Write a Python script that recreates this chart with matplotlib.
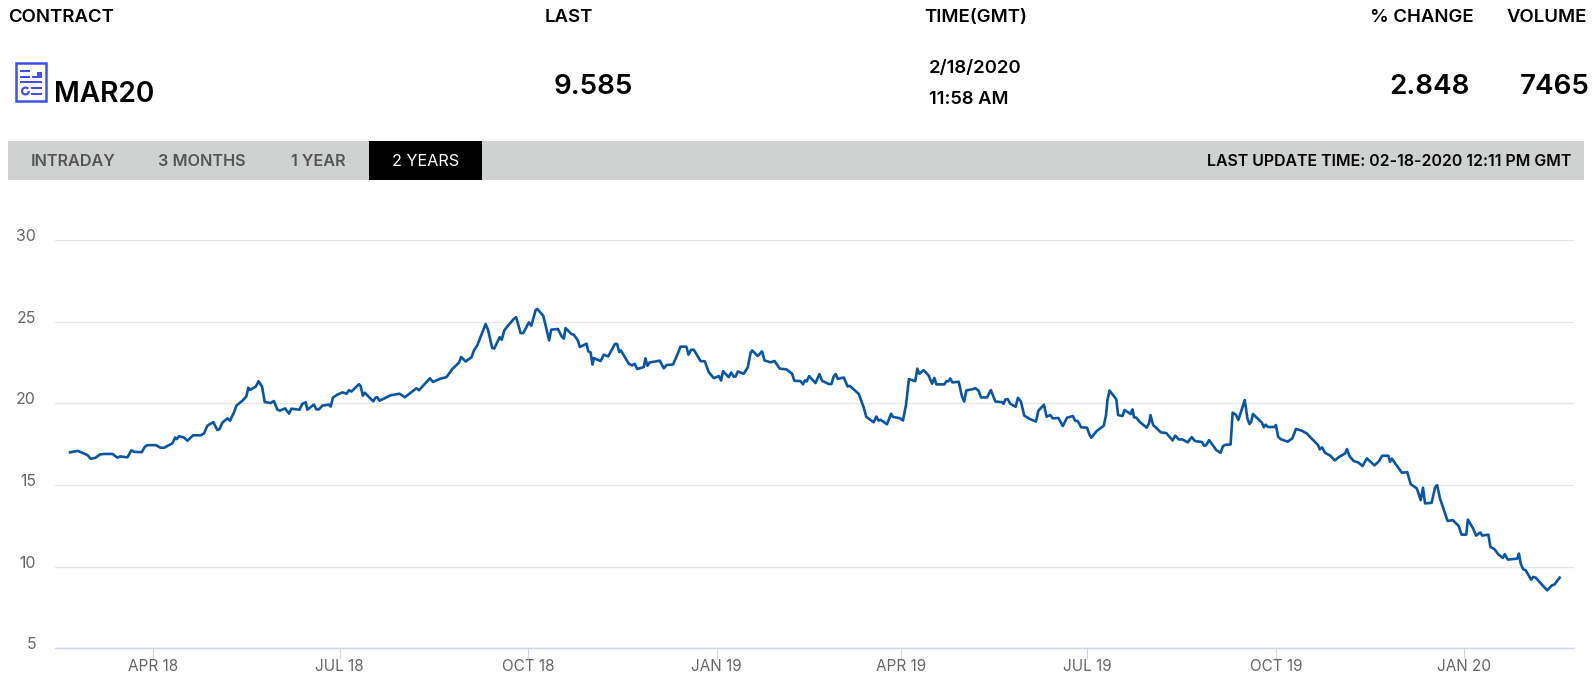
import pandas as pd
import matplotlib
matplotlib.use("Agg")
import matplotlib.pyplot as plt
import matplotlib.dates as mdates
from matplotlib.patches import Rectangle, Wedge
from matplotlib.transforms import ScaledTranslation

plt.rcParams['font.family'] = ['Inter', 'DejaVu Sans']

W, H = 1594, 680

# days counted from 1 Apr 2018
days = [-40.5,-38.5,-36.6,-34.5,-32,-30.4,-28,-25.9,-24,-19.8,-17.4,-16,-12.5,-10.6,-9.3,-5.5,-4,-2.8,1.3,3.7,5.4,9.4,10.8,11.5,12.7,15.1,16.8,19.5,23.3,24.9,26.5,29.4,31.4,32.5,33.8,36.3,37.6,39.5,40.7,43.6,45.5,46.5,47.3,50.1,51.5,53.2,54.5,57.4,59,60.7,62,64.4,66.4,67.5,71.5,72.8,74.5,75.3,78.5,79.7,81,82.6,85.9,86.7,87.8,89.9,92.4,94.5,95.6,96.8,100.5,101.3,102.4,103.3,107.5,108.6,109.4,110.6,115.9,120.3,122.9,128.5,129.8,135.1,136.6,140.3,143.2,146,149.3,150.4,152.5,155.4,156.6,158.2,162.3,163.5,165.5,166.5,169.2,170.2,171.4,173.6,176.1,177.2,179.4,
        180.7,183.4,184.6,186.7,187.5,190.4,191.9,193.3,194.3,197.6,199.4,200.5,201.3,204.2,205.4,207.3,208.3,211.6,212.4,213.5,214.5,215.1,218.4,220,222.1,225.4,226.5,227.5,228.3,232.2,233.8,235.1,236.3,239.5,240.3,241.3,242.3,247.3,249.3,250.6,253.8,256.1,257.4,260.3,261.3,262.6,263.9,267.2,269.3,271.2,273.7,276.1,277.2,278.2,281,282.1,283.4,284.4,285.4,288.3,290.3,291.6,292.4,295.1,297.2,298.4,301.3,303.3,305.9,309.1,311.9,313,316,317.2,318.1,319,320.2,323.3,325.2,326.5,329.8,331.1,332.2,333.2,334.2,337.1,339,340,344.4,346.8,348.1,351.7,353,354,355,358.2,360.2,361.1,364.4,366,367.5,368.9,372,373,374,376.1,378.5,380.2,381.3,382.3,386.2,387.2,388.1,389.1,390.1,393.2,394.8,395.9,396.9,400.2,401.3,402.9,404.1,407,408.9,411.1,414.3,415.1,416,417.1,418.4,421,422.1,
        423.6,425.2,428.3,430.9,432.1,434.8,436.1,437.9,439.1,441.9,444,446.1,448.9,450.1,451.3,453,455.8,457.1,457.9,460.5,464,465.1,465.8,466.8,470.1,471,473.1,474.1,477.1,478,478.8,479.9,481.4,484.9,486.1,486.8,488.1,491.9,494.5,497.6,498.9,500.6,502.4,505,506.9,508.5,511.9,513,514,515.4,518.9,521,522.2,523.3,525.9,526.9,528.5,529.7,532.8,534.1,535.1,536,536.8,541.2,542.1,543,544.2,547.3,548,549.1,550.3,553.7,556,557.8,560.7,563,568.6,569.4,570.6,572,574.6,576.7,579,581.8,582.7,583.9,586,588.2,590.3,592.4,596.1,598.2,599.9,602.9,603.7,604.6,609.5,612.1,613.8,616.8,618.7,619.8,620.8,624,625.7,626.7,628.1,631.8,634.4,637.2,638.6,640.9,641.7,644.3,645.7,647.8,648.7,651.7,652.7,654.8,656.5,658.8,659.7,661.2,665.8,666.6,667.5,668.7,669.9,672.6,673.6,674.8,677.4,680.4,682.7,683.9,686.5]
prices = [17.0,17.05,17.08,16.97,16.83,16.6,16.67,16.87,16.9,16.9,16.67,16.75,16.69,17.12,17.03,17.01,17.34,17.44,17.44,17.28,17.28,17.55,17.91,17.81,17.98,17.91,17.71,18.04,18.04,18.16,18.63,18.85,18.36,18.43,18.81,19.08,18.94,19.45,19.86,20.16,20.41,20.96,20.82,21.02,21.35,21.02,20.08,20.02,20.14,19.61,19.55,19.69,19.37,19.67,19.61,19.96,20.06,19.61,19.92,19.63,19.63,19.86,19.92,19.8,20.35,20.53,20.67,20.59,20.8,20.72,21.17,21.06,20.47,20.65,20.12,20.35,20.37,20.16,20.49,20.59,20.37,20.92,20.8,21.53,21.31,21.51,21.6,22.09,22.49,22.84,22.56,22.82,23.23,23.54,24.85,24.5,23.39,23.35,24.05,23.89,24.46,24.81,25.17,25.27,24.3,
          24.3,24.96,24.75,25.7,25.78,25.37,24.61,23.85,24.51,24.55,24.1,23.96,24.61,24.24,24.2,23.85,23.45,23.65,23.18,23.12,22.38,22.77,22.59,22.98,22.87,23.63,23.63,23.14,23.24,22.42,22.32,22.42,22.1,22.22,22.75,22.3,22.5,22.61,22.14,22.34,22.38,23.04,23.47,23.47,22.98,23.28,23.28,22.59,22.57,21.91,21.54,21.67,21.4,21.97,21.6,21.89,21.63,21.65,21.95,21.81,22.22,23.08,23.24,22.89,23.18,22.63,22.51,22.59,22.12,22.08,21.81,21.38,21.36,21.16,21.4,21.34,21.67,21.24,21.79,21.38,21.18,21.18,21.65,21.79,21.5,21.58,21.03,21.07,20.58,19.76,19.17,18.84,19.19,18.95,18.99,18.72,19.36,19.17,19.09,18.95,19.91,21.48,21.36,22.12,21.81,22.03,21.71,21.2,21.56,21.16,21.16,21.36,21.34,21.52,21.28,21.32,20.42,20.11,20.79,20.87,20.93,20.77,20.36,20.36,20.81,20.11,20.07,19.97,20.24,20.26,19.97,19.79,20.34,
          20.1,19.24,19.02,18.88,19.55,19.92,19.18,19.28,19.08,19.1,18.61,19.12,19.22,18.92,18.92,18.53,18.51,18.06,17.89,18.3,18.63,19.28,20.2,20.78,20.25,19.28,19.22,19.59,19.35,19.63,19.14,19.12,18.88,18.51,18.77,19.28,18.67,18.22,18.18,17.73,18.02,17.79,17.79,17.61,17.93,17.69,17.63,17.4,17.44,17.75,17.14,16.97,17.38,17.46,17.48,19.43,19.3,18.98,20.2,19.08,18.73,18.88,19.35,18.81,18.53,18.69,18.55,18.55,18.67,17.96,17.81,17.65,17.85,18.43,18.32,18.16,17.44,17.18,17.3,16.97,16.79,16.5,16.73,16.93,17.2,16.77,16.46,16.38,16.16,16.63,16.2,16.44,16.79,16.79,16.42,16.61,15.75,15.79,15.05,14.79,14.07,14.83,13.87,13.91,14.85,14.99,14.17,12.8,12.84,12.49,11.96,11.96,12.88,12.33,11.9,12.09,11.9,11.96,11.21,11.06,10.76,10.53,10.76,10.43,10.49,10.8,10.18,9.84,9.78,9.2,9.37,9.33,8.96,8.55,8.85,8.9,9.33]

yticks = [5, 10, 15, 20, 25, 30]
xtick_dates = ["2018-04-01", "2018-07-01", "2018-10-01", "2019-01-01", "2019-04-01", "2019-07-01", "2019-10-01", "2020-01-01"]
xtick_labels = ["APR 18", "JUL 18", "OCT 18", "JAN 19", "APR 19", "JUL 19", "OCT 19", "JAN 20"]
tabs = ["INTRADAY", "3 MONTHS", "1 YEAR", "2 YEARS"]
tab_x = [30.5, 158, 291.5, 392]

dates = pd.Timestamp("2018-04-01") + pd.to_timedelta(days, unit="D")

fig = plt.figure(figsize=(W / 100, H / 100), dpi=100, facecolor="white")

# page furniture, in pixel coordinates
page = fig.add_axes([0, 0, 1, 1])
page.set_xlim(0, W)
page.set_ylim(H, 0)
page.axis("off")

for label, x in [("CONTRACT", 8), ("LAST", 545), ("TIME(GMT)", 924), ("% CHANGE", 1370), ("VOLUME", 1507)]:
    page.text(x, 17, label, fontsize=13.4, fontweight="semibold", color="black", va="center")

icon = "#3d50f5"
page.add_patch(Rectangle((16, 63), 30, 38, fill=False, ec=icon, lw=1.8))
for x0, y0, w, h in [(20, 70, 10, 2), (20, 76, 10, 2), (32, 76, 10, 2), (37, 72, 5, 4), (20, 81, 22, 2),
                     (31, 87, 11, 2), (31, 93, 11, 2)]:
    page.add_patch(Rectangle((x0, y0), w, h, fc=icon, ec="none"))
page.add_patch(Wedge((25.5, 91), 4.5, 0, 320, width=2.2, fc=icon, ec="none"))
page.text(54, 101.5, "MAR20", fontsize=20.2, fontweight="semibold", color="black", va="baseline")

for label, x in [("9.585", 554), ("2.848", 1389), ("7465", 1520)]:
    page.text(x, 87, label, fontsize=20, fontweight="semibold", color="black", va="center")
page.text(929, 68.5, "2/18/2020", fontsize=13.4, fontweight="semibold", color="black", va="center")
page.text(929, 99.5, "11:58 AM", fontsize=13.2, fontweight="semibold", color="black", va="center")

page.add_patch(Rectangle((8, 141), W - 8 - 10, 39, fc="#d0d2d2", ec="none"))
page.add_patch(Rectangle((369, 141), 113, 39, fc="black", ec="none"))
for label, x in zip(tabs, tab_x):
    col = "white" if label == "2 YEARS" else "#555555"
    weight = "regular" if label == "2 YEARS" else "semibold"
    page.text(x, 161, label, fontsize=11.7, fontweight=weight, color=col, va="center")
page.text(1571, 161, "LAST UPDATE TIME: 02-18-2020 12:11 PM GMT", fontsize=11.45, fontweight="semibold",
          color="black", va="center", ha="right")

# the chart itself
left, right, top, bottom = 54.7, 1574, 240, 648.3
ax = fig.add_axes([left / W, 1 - bottom / H, (right - left) / W, (bottom - top) / H])
ax.patch.set_alpha(0)
ax.plot(dates, prices, color="#0a56a3", lw=1.9, solid_joinstyle="round", zorder=3)

ax.set_xlim(pd.Timestamp("2018-02-12"), pd.Timestamp("2020-02-23 12:00"))
ax.set_ylim(5, 30)
ax.set_yticks(yticks)
ax.set_xticks(mdates.date2num(pd.to_datetime(xtick_dates)))
ax.set_xticklabels(xtick_labels)
ax.grid(axis="y", color="#e6e6e6", lw=1)
ax.set_axisbelow(True)
for s in ["top", "left", "right"]:
    ax.spines[s].set_visible(False)
ax.spines["bottom"].set_color("#ccd6eb")
ax.spines["bottom"].set_linewidth(1)
ax.tick_params(axis="y", length=0, pad=13.5, labelsize=11.4, labelcolor="#666666")
ax.tick_params(axis="x", length=8, width=0.8, color="#ccd6eb", pad=-0.5, labelsize=11, labelcolor="#666666")
# y labels sit a little above their gridlines
lift = ScaledTranslation(0, 2.5 / 72, fig.dpi_scale_trans)
for t in ax.get_yticklabels():
    t.set_verticalalignment("center")
    t.set_transform(t.get_transform() + lift)

fig.savefig("out.png", dpi=100)
